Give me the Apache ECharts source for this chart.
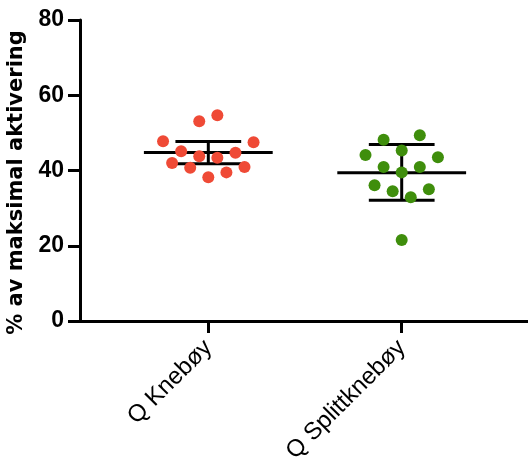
<!DOCTYPE html>
<html><head><meta charset="utf-8">
<script src="https://cdn.jsdelivr.net/npm/echarts@6/dist/echarts.min.js"></script>
<style>html,body{margin:0;padding:0;background:#fff}#c{width:528px;height:461px}</style>
</head><body><div id="c"></div>
<script>
// Data
const categories = ['Q Knebøy', 'Q Splittknebøy'];
const knebøyValues = [53.1, 54.7, 47.8, 47.5, 45.1, 43.8, 43.4, 44.7, 42.0, 40.7, 40.9, 38.2, 39.5];
const knebøyJitter = [-1, 1, -5, 5, -3, -1, 1, 3, -4, -2, 4, 0, 2];
const splittValues = [48.2, 49.4, 44.1, 45.3, 43.5, 40.9, 39.5, 40.9, 36.1, 34.5, 35.0, 32.9, 21.5];
const splittJitter = [-2, 2, -4, 0, 4, -2, 0, 2, -3, -1, 3, 1, 0];
const means = [44.8, 39.4];
const errLow = [41.8, 32.1];
const errHigh = [47.7, 46.9];
const yTicks = [0, 20, 40, 60, 80];

const JIT = 0.0468;
const toPts = (vals, jit, cx) => vals.map((v, i) => [cx + jit[i] * JIT, v]);

const chart = echarts.init(document.getElementById('c'));
chart.setOption({
  animation: false,
  grid: { left: 80, right: 0, top: 20, bottom: 140, containLabel: false, outerBoundsMode: 'none' },
  xAxis: {
    type: 'value', min: 0.3366, max: 2.653,
    splitLine: { show: false },
    axisLine: { show: true, lineStyle: { color: '#000', width: 3 } },
    axisTick: { show: true, customValues: [1, 2], length: 12, lineStyle: { color: '#000', width: 3 } },
    axisLabel: {
      customValues: [1, 2], rotate: 45, margin: 23,
      formatter: v => categories[Math.round(v) - 1] || '',
      fontFamily: 'Liberation Sans, Arial, sans-serif', fontSize: 24, color: '#000'
    }
  },
  yAxis: {
    type: 'value', min: yTicks[0], max: yTicks[yTicks.length - 1], interval: 20,
    name: '% av maksimal aktivering', nameLocation: 'middle', nameGap: 44,
    nameTextStyle: { fontFamily: 'DejaVu Sans', fontWeight: 'bold', fontSize: 21, color: '#000', padding: [0, 24, 0, 0] },
    splitLine: { show: false },
    axisLine: { show: true, lineStyle: { color: '#000', width: 3 } },
    axisTick: { show: true, length: 12, lineStyle: { color: '#000', width: 3 } },
    axisLabel: { margin: 16, fontFamily: 'Liberation Sans Narrow, Arial Narrow, sans-serif', fontWeight: 'bold', fontSize: 23, color: '#000' }
  },
  series: [
    {
      type: 'custom', z: 2,
      data: means.map((m, i) => [i + 1, m, errLow[i], errHigh[i]]),
      renderItem: (params, api) => {
        const x = api.value(0);
        const m = api.coord([x, api.value(1)]);
        const lo = api.coord([x, api.value(2)]);
        const hi = api.coord([x, api.value(3)]);
        const unit = api.size([1, 0])[0];
        const hw = unit * 0.333, cw = unit * 0.17;
        const st = { stroke: '#000', lineWidth: 3 };
        return { type: 'group', children: [
          { type: 'line', shape: { x1: m[0] - hw, y1: m[1], x2: m[0] + hw, y2: m[1] }, style: st },
          { type: 'line', shape: { x1: lo[0], y1: lo[1], x2: hi[0], y2: hi[1] }, style: st },
          { type: 'line', shape: { x1: lo[0] - cw, y1: lo[1], x2: lo[0] + cw, y2: lo[1] }, style: st },
          { type: 'line', shape: { x1: hi[0] - cw, y1: hi[1], x2: hi[0] + cw, y2: hi[1] }, style: st }
        ]};
      }
    },
    { type: 'scatter', z: 3, symbolSize: 12, itemStyle: { color: '#EF4A36', opacity: 1 }, data: toPts(knebøyValues, knebøyJitter, 1) },
    { type: 'scatter', z: 3, symbolSize: 12, itemStyle: { color: '#3F8E0C', opacity: 1 }, data: toPts(splittValues, splittJitter, 2) }
  ]
});
</script></body></html>
